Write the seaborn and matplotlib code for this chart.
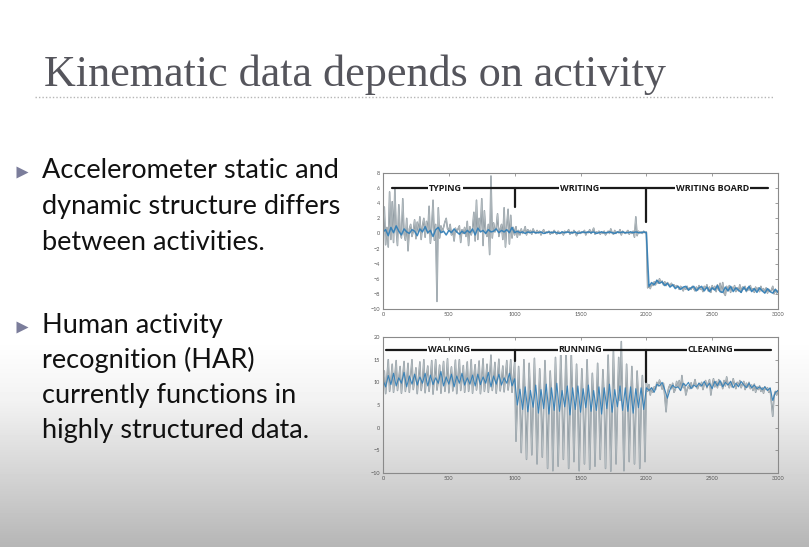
import numpy as np
import pandas as pd
import seaborn as sns
import matplotlib.pyplot as plt
import matplotlib.patheffects as pe
from matplotlib.lines import Line2D

# sampling step of the read-off signals (samples)
RAW_STEP = 10
SMOOTH_STEP = 20

# ---- top panel: typing / writing / writing board (raw trace, every 10 samples)
typing_raw = [
    -0.5, 3.5, -1.5, 0.8, -1.8, 5.5, -0.8, 4.2, -1.2, 6.0,
    0.5, -1.6, 3.8, 0.2, -0.6, 4.6, 0.0, -0.9, 2.0, -2.3,
    0.6, 1.2, -0.4, 0.3, 1.8, -0.7, 1.5, 0.2, 2.2, -0.8,
    1.0, 2.0, -0.5, 1.6, 0.0, 3.6, -1.3, 0.8, 4.4, -0.9,
    1.2, -9.0, 3.4, -0.6, 1.0, 0.2, 0.8, 1.5, 2.0, 0.6,
    0.4, 1.2, -0.2, 0.4, -1.0, 0.7, 0.2, 0.6, 1.0, -1.2,
    0.5, 0.0, 0.8, -0.4, 1.6, -1.6, 0.9, -0.2, 0.5, 2.8,
    -1.0, 4.4, -0.8, 2.0, 0.3, 4.6, -1.6, 3.0, 0.2, -0.4,
    1.2, -2.8, 7.6, -0.6, 1.4, 0.2, 0.8, 2.6, -0.4, 0.6,
    1.2, -0.8, 3.4, -1.8, 1.0, 3.2, -1.4, 2.4, -0.6, 0.8,
    -0.2,
]
writing_raw = [
    0.9, -0.5, 0.4, -0.2, 0.6, 0.0, 0.3, 0.9, -0.2, 0.5,
    0.1, 0.4, -0.1, 0.6, 0.2, 0.0, 0.4, 0.1, 0.3, -0.2,
    0.2, 0.5, 0.0, 0.2, 0.1, 0.3, -0.1, 0.2, 0.0, 0.4,
    0.1, -0.1, 0.3, 0.1, 0.0, 0.2, -0.2, 0.3, 0.1, 0.2,
    0.5, -0.1, 0.2, 0.0, 0.4, 0.1, -0.3, 0.2, 0.3, 0.0,
    0.2, 0.1, 0.4, -0.2, 0.2, 0.1, 0.5, 0.0, 0.3, 0.7,
    -0.1, 0.2, 0.1, 0.3, -0.1, 0.2, 0.0, 0.3, -0.2, 0.1,
    0.3, 0.0, 0.6, 0.1, -0.1, 0.4, 0.0, 0.2, 0.1, 0.5,
    -0.2, 0.3, 0.1, 0.0, 0.2, 0.4, -0.1, 0.2, 0.0, 0.3,
    -0.5, 2.2, -0.3, 0.3, 0.1, 0.2, 0.0, 0.3, 0.1, 0.2,
]
board_raw = [
    -7.2, -6.8, -7.3, -6.7, -6.9, -6.4, -6.8, -6.2, -6.6, -6.0,
    -6.5, -6.3, -6.8, -6.4, -6.9, -6.5, -6.7, -7.0, -6.6, -6.9,
    -6.8, -7.1, -6.9, -7.0, -7.4, -7.0, -7.2, -7.6, -7.1, -7.4,
    -7.0, -7.5, -7.2, -7.4, -7.0, -7.3, -7.6, -7.1, -7.5, -6.9,
    -7.4, -7.2, -7.7, -7.0, -7.3, -6.8, -7.6, -7.1, -7.8, -6.9,
    -7.4, -7.0, -7.7, -6.8, -7.5, -6.6, -7.8, -6.5, -7.9, -8.2,
    -7.0, -7.6, -6.9, -7.8, -7.1, -7.5, -6.9, -7.7, -7.2, -7.6,
    -6.8, -7.8, -7.1, -7.4, -7.0, -7.7, -7.2, -7.5, -6.9, -7.6,
    -7.3, -7.8, -7.1, -7.5, -7.2, -7.7, -7.0, -7.6, -7.3, -7.8,
    -7.2, -7.9, -7.4, -7.7, -7.5, -7.0, -8.0, -7.4, -7.9, -7.6,
]
# smoothed (blue) trace, every 20 samples
typing_smooth = [
    0.2, 0.5, -0.3, 0.8, 0.1, 1.0, 0.3, -0.2, 0.6, 0.2,
    0.0, 0.5, 0.3, -0.3, 0.6, 0.2, 0.9, 0.1, 0.4, -0.4,
    0.5, 0.8, 0.1, 0.3, -0.2, 0.4, 0.1, 0.6, 0.2, -0.1,
    0.3, 0.0, 0.4, 0.1, 0.6, -0.2, 0.7, 0.2, 0.4, 0.0,
    0.5, 0.2, 0.3, 0.6, 0.1, 0.4, 0.2, 0.5, 0.1, 0.8,
    0.1,
]
writing_smooth = [
    0.3, 0.1, 0.2, 0.0, 0.2, 0.1, 0.2, 0.1, 0.1, 0.2,
    0.0, 0.1, 0.2, 0.1, 0.2, 0.1, 0.0, 0.2, 0.1, 0.2,
    0.1, 0.1, 0.2, 0.0, 0.1, 0.2, 0.1, 0.2, 0.1, 0.2,
    0.0, 0.1, 0.2, 0.1, 0.1, 0.2, 0.1, 0.0, 0.2, 0.1,
    0.2, 0.1, 0.1, 0.2, 0.1, 0.2, 0.1, 0.1, 0.2, 0.1,
]
board_smooth = [
    -7.0, -6.5, -6.8, -6.2, -6.6, -6.4, -6.9, -6.6, -7.1, -6.8,
    -7.3, -7.0, -7.4, -7.1, -7.0, -7.5, -7.2, -7.0, -7.6, -7.2,
    -7.0, -7.6, -7.1, -7.7, -7.2, -7.5, -6.9, -7.7, -7.8, -7.1,
    -7.6, -7.0, -7.7, -7.2, -7.5, -7.8, -7.1, -7.6, -7.0, -7.7,
    -7.3, -7.8, -7.2, -7.6, -7.9, -7.3, -7.7, -7.9, -7.4, -7.8,
]

# ---- bottom panel: walking / running / cleaning
walking_raw = [
    9.5, 12.5, 7.5, 11.0, 15.0, 8.0, 10.5, 14.0, 7.8, 11.2,
    14.8, 8.2, 10.8, 13.5, 7.6, 11.0, 14.6, 8.0, 10.5, 14.2,
    7.8, 11.4, 15.0, 8.4, 10.6, 13.2, 7.5, 11.0, 14.5, 8.2,
    10.2, 15.0, 7.7, 11.3, 13.6, 8.0, 10.8, 14.8, 7.4, 11.0,
    15.0, 8.3, 10.4, 13.8, 7.6, 11.2, 14.6, 8.0, 10.7, 15.2,
    7.7, 11.0, 13.4, 8.1, 10.5, 14.9, 7.5, 11.3, 15.0, 8.2,
    10.6, 13.7, 7.8, 11.0, 14.5, 8.0, 10.3, 15.0, 7.6, 11.2,
    13.9, 8.3, 10.8, 14.7, 7.5, 11.0, 15.2, 8.0, 10.4, 14.0,
    7.8, 11.3, 16.0, 8.2, 10.6, 14.4, 7.6, 11.0, 15.1, 8.1,
    10.5, 13.6, 7.9, 11.2, 14.8, 8.3, 10.7, 15.0, 7.8, 11.0,
    14.5,
]
running_raw = [
    -3.0, 5.0, 13.5, 6.0, -5.5, 4.0, 15.0, 5.5, -7.0, 3.5,
    14.2, 6.2, -6.0, 4.5, 15.3, 5.0, -8.0, 3.0, 13.0, 6.0,
    -6.5, 4.2, 14.8, 5.6, -9.0, 3.6, 12.5, 6.4, -9.5, 4.0,
    15.5, 5.2, -8.5, 3.2, 17.0, 6.0, -7.0, 4.6, 17.5, 5.4,
    -9.0, 3.8, 16.5, 6.2, -7.5, 4.4, 14.0, 5.0, -9.5, 3.4,
    13.0, 5.8, -8.0, 4.2, 15.0, 5.4, -9.2, 3.6, 12.0, 6.0,
    -8.5, 4.0, 14.2, 5.2, -7.0, 3.8, 12.8, 6.4, -9.0, 4.6,
    16.0, 5.0, -9.6, 3.2, 17.0, 5.6, -8.0, 4.2, 15.5, 6.0,
    19.0, 4.0, -9.5, 3.6, 14.0, 5.8, -7.5, 4.4, 13.5, 5.2,
    -8.0, 3.8, 12.5, 6.2, -9.0, 4.0, 11.5, 5.0, -7.5, 10.0,
]
cleaning_raw = [
    8.0, 9.5, 7.2, 8.8, 7.8, 9.0, 8.4, 10.0, 9.2, 10.5,
    9.6, 8.5, 9.8, 7.0, 3.5, 7.5, 8.8, 9.5, 8.6, 9.8,
    7.8, 8.4, 10.2, 9.0, 10.4, 8.2, 11.5, 8.8, 9.6, 7.2,
    8.4, 9.2, 8.6, 9.9, 8.8, 9.4, 10.6, 9.0, 8.6, 9.8,
    9.2, 10.0, 8.4, 9.6, 10.4, 8.8, 9.8, 10.6, 7.2, 9.4,
    10.8, 9.0, 10.2, 8.8, 10.6, 9.4, 10.0, 8.6, 10.4, 9.2,
    11.2, 9.6, 8.8, 10.2, 9.0, 10.8, 9.4, 8.6, 10.0, 9.2,
    10.4, 8.8, 9.6, 10.2, 8.4, 9.8, 9.0, 10.0, 8.6, 9.4,
    8.2, 9.6, 7.8, 9.0, 8.4, 9.2, 8.0, 8.8, 7.6, 9.0,
    8.4, 8.8, 7.8, 8.6, 5.5, 2.5, 7.0, 8.0, 7.2, 8.2,
]
walking_smooth = [
    10.5, 9.0, 11.5, 9.5, 12.0, 9.2, 11.0, 9.8, 12.2, 9.0,
    11.4, 9.6, 11.8, 9.4, 11.2, 9.8, 12.0, 9.2, 11.6, 9.5,
    11.0, 9.8, 12.4, 9.2, 11.2, 9.6, 11.8, 9.0, 11.4, 9.8,
    12.0, 9.4, 11.0, 9.6, 11.6, 9.2, 11.8, 9.5, 11.2, 9.8,
    12.2, 9.0, 11.4, 9.6, 11.8, 9.4, 11.0, 9.8, 12.0, 9.2,
    10.8,
]
running_smooth = [
    5.0, 8.5, 4.0, 9.0, 3.5, 8.2, 4.5, 9.4, 3.2, 8.4,
    4.2, 9.6, 3.0, 8.8, 3.8, 9.8, 3.6, 8.2, 4.6, 9.2,
    2.8, 8.8, 4.0, 9.2, 3.4, 8.6, 4.4, 9.4, 3.6, 8.2,
    3.8, 9.0, 3.0, 8.8, 4.2, 9.6, 3.4, 8.4, 4.6, 9.2,
    3.8, 8.8, 3.6, 9.0, 3.2, 8.6, 4.4, 8.8, 4.0, 8.8,
]
cleaning_smooth = [
    8.2, 8.8, 7.8, 9.6, 9.2, 10.0, 8.4, 6.5, 8.4, 9.4,
    8.8, 9.0, 8.2, 9.8, 9.2, 10.0, 8.6, 9.4, 9.0, 9.8,
    9.2, 10.2, 9.0, 9.8, 8.6, 10.2, 9.2, 10.4, 9.0, 10.0,
    9.4, 10.2, 8.8, 9.8, 9.0, 10.2, 9.4, 8.8, 9.8, 8.8,
    9.4, 8.6, 9.0, 8.4, 9.0, 8.2, 8.8, 6.0, 7.8, 8.2,
]

top_labels = ["TYPING", "WRITING", "WRITING BOARD"]
top_label_x = [475, 1495, 2500]
bottom_labels = ["WALKING", "RUNNING", "CLEANING"]
bottom_label_x = [500, 1500, 2485]

W, H = 809, 547


def fx(px):
    return px / W


def fy(py):
    return 1 - py / H


def to_frame(values, step):
    return pd.DataFrame({"sample": np.arange(len(values)) * step, "value": values})


sns.set_style("white")
plt.rcParams["font.family"] = ["Lato", "DejaVu Sans"]

fig = plt.figure(figsize=(W / 100, H / 100), dpi=100)

# slide background: white fading to grey toward the bottom
bg = fig.add_axes([0, 0, 1, 1], zorder=-10)
rows = np.arange(H)
lum = np.interp(rows, [0, 340, 400, 450, 500, H], [1, 1, 0.95, 0.87, 0.79, 0.71])
bg.imshow(np.repeat(lum[:, None], 4, axis=1), cmap="gray", vmin=0, vmax=1,
          aspect="auto", extent=[0, 1, 0, 1])
bg.axis("off")

# title + dotted rule
fig.text(fx(44), fy(86), "Kinematic data depends on activity",
         family="Liberation Serif", fontsize=31.8, color="#55555c", va="baseline")
fig.add_artist(Line2D([fx(35), fx(773)], [fy(97), fy(97)], color="#b5b5b5",
                      lw=1.0, ls=(0, (1, 1.5)), transform=fig.transFigure))

# bullets
bullet_blocks = [
    (172, [("Accelerometer static and", 178), ("dynamic structure differs", 214),
           ("between activities.", 250)]),
    (327, [("Human activity", 333), ("recognition (HAR)", 368),
           ("currently functions in", 403), ("highly structured data.", 438)]),
]
for tri_y, lines in bullet_blocks:
    fig.add_artist(Line2D([fx(22)], [fy(tri_y)], marker=">", ms=8, color="#7b7d9b",
                          mec="none", transform=fig.transFigure))
    for txt, base in lines:
        fig.text(fx(42), fy(base), txt, fontsize=19.5, color="#111111", va="baseline")


def panel(rect, raw_parts, smooth_parts, ylim, yticks, line_y, marks, labels, label_x,
          smooth_lw):
    ax = fig.add_axes(rect)
    ax.set_facecolor("none")
    raw = to_frame(sum(raw_parts, []), RAW_STEP)
    smooth = to_frame(sum(smooth_parts, []), SMOOTH_STEP)
    sns.lineplot(data=raw, x="sample", y="value", ax=ax, color="#b6bec2", lw=0.55)
    ax.lines[-1].set_path_effects([pe.Stroke(linewidth=1.1, foreground="#86929a"),
                                   pe.Normal()])
    sns.lineplot(data=smooth, x="sample", y="value", ax=ax, color="#2e7db7",
                 lw=smooth_lw, alpha=0.9)
    ax.set_xlim(0, 3000)
    ax.set_ylim(*ylim)
    ax.set_xticks(range(0, 3001, 500))
    ax.set_yticks(yticks)
    ax.set_xlabel("")
    ax.set_ylabel("")
    ax.tick_params(direction="in", length=2.5, width=0.5, top=True, right=True,
                   labelsize=4, labelcolor="#555555", color="#777777", pad=2)
    for s in ax.spines.values():
        s.set_color("#8a8a8a")
        s.set_linewidth(0.8)
    # activity bracket
    ax.plot(line_y[0], [line_y[1]] * 2, color="#1a1a1a", lw=1.6)
    for mx, my in marks:
        ax.plot([mx, mx], [line_y[1], my], color="#1a1a1a", lw=1.6)
    for lab, lx in zip(labels, label_x):
        ax.text(lx, line_y[1], lab, ha="center", va="center", fontsize=6.5,
                fontweight="bold", family="Open Sans", color="#1a1a1a",
                bbox=dict(facecolor="white", edgecolor="none", pad=0.6))
    return ax


panel([fx(383), fy(309), fx(778) - fx(383), (309 - 173) / H],
      [typing_raw, writing_raw, board_raw],
      [typing_smooth, writing_smooth, board_smooth],
      (-10, 8), range(-10, 9, 2), ([68, 2924], 6), [(1000, 3.5), (2000, 1.5)],
      top_labels, top_label_x, 1.1)

panel([fx(383), fy(473), fx(778) - fx(383), (473 - 337) / H],
      [walking_raw, running_raw, cleaning_raw],
      [walking_smooth, running_smooth, cleaning_smooth],
      (-10, 20), range(-10, 21, 5), ([25, 2950], 17.2), [(1000, 14.6), (2000, 10.0)],
      bottom_labels, bottom_label_x, 0.8)

plt.savefig("out.png", dpi=100)
